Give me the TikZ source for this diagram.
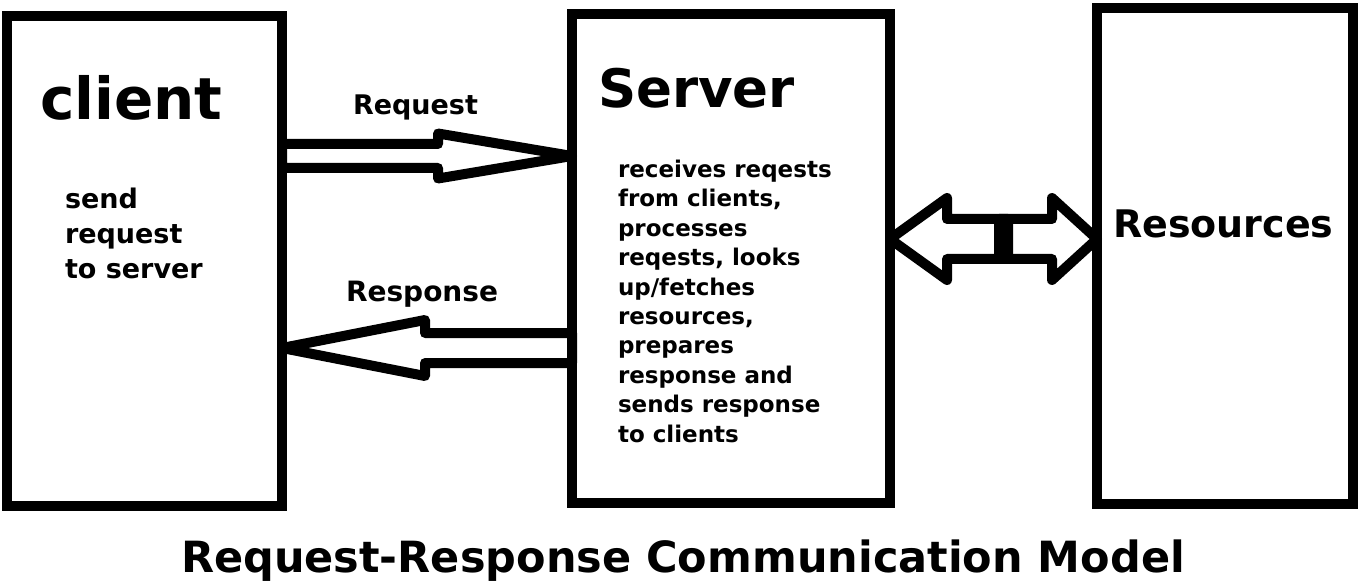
\documentclass[tikz,border=0pt]{standalone}
\usepackage{fontspec}
\setmainfont{DejaVu Sans}
\usepackage{tikz}
\usetikzlibrary{calc}
\tikzset{box/.style={draw, line width=10pt, inner sep=0pt, outer sep=0pt}}
\tikzset{txt/.style={inner sep=0pt, outer sep=0pt, anchor=base west, align=left}}
\tikzset{blockarrow/.style n args={3}{draw, line width=10pt, line join=round,
  to path={let \p1=(\tikztostart), \p2=(\tikztotarget), \n1={sign(\x2-\x1)} in
    (\x1,{\y1+#1}) -- ({\x2-\n1*#3},{\y1+#1}) -- ({\x2-\n1*#3},{\y1+#2})
    -- (\x2,\y2) -- ({\x2-\n1*#3},{\y1-#2}) -- ({\x2-\n1*#3},{\y1-#1})
    -- (\x1,{\y1-#1}) -- cycle}}}

\begin{document}
\begin{tikzpicture}[x=1pt, y=1pt]
\useasboundingbox (0,0) rectangle (1363,-588);
\node (client) [box, minimum width=275pt, minimum height=490pt] at (144.5,-261) {};
\node (server) [box, minimum width=318pt, minimum height=489pt] at (731,-258.5) {};
\node (res) [box, minimum width=256pt, minimum height=496pt] at (1225,-256) {};
% multi-line texts: base is the last line
\node (clientname) [txt, font=\fontsize{58}{70}\selectfont\bfseries] at (40,-120) {client};
\node (clienttext) [txt, font=\fontsize{27}{35}\selectfont\bfseries] at (65,-278) {send\\request\\to server};
\node (servername) [txt, font=\fontsize{53}{64}\selectfont\bfseries] at (598,-108) {Server};
\node (servertext) [txt, font=\fontsize{23}{29.4}\selectfont\bfseries] at (618,-442)
  {receives reqests\\from clients,\\processes\\reqests, looks\\up/fetches\\resources,\\prepares\\response and\\sends response\\to clients};
\node (resname) [txt, font=\fontsize{38}{46}\selectfont\bfseries] at (1113,-237) {Resources};
\node (req) [txt, font=\fontsize{27}{32}\selectfont\bfseries] at (353,-115) {Request};
\node (resp) [txt, font=\fontsize{28}{34}\selectfont\bfseries] at (346,-301) {Response};
\node (title) [txt, anchor=base, font=\fontsize{43}{52}\selectfont\bfseries] at (683,-572) {Request-Response Communication Model};
\coordinate (reqA) at (client.east |- 0,-156);
\coordinate (reqB) at (server.west |- reqA);
\path [blockarrow={12}{22.5}{134}] (reqA) to (reqB);
\coordinate (respA) at (server.west |- 0,-348);
\coordinate (respB) at (client.east |- respA);
\path [blockarrow={15}{28}{143}] (respA) to (respB);
\coordinate (dblA) at (1008,-239);
\coordinate (dblB) at (999,-239);
\path [blockarrow={20}{41}{57}] (dblA) to (server.east |- dblA);
\path [blockarrow={20}{41}{45}] (dblB) to (res.west |- dblB);
\end{tikzpicture}
\end{document}
